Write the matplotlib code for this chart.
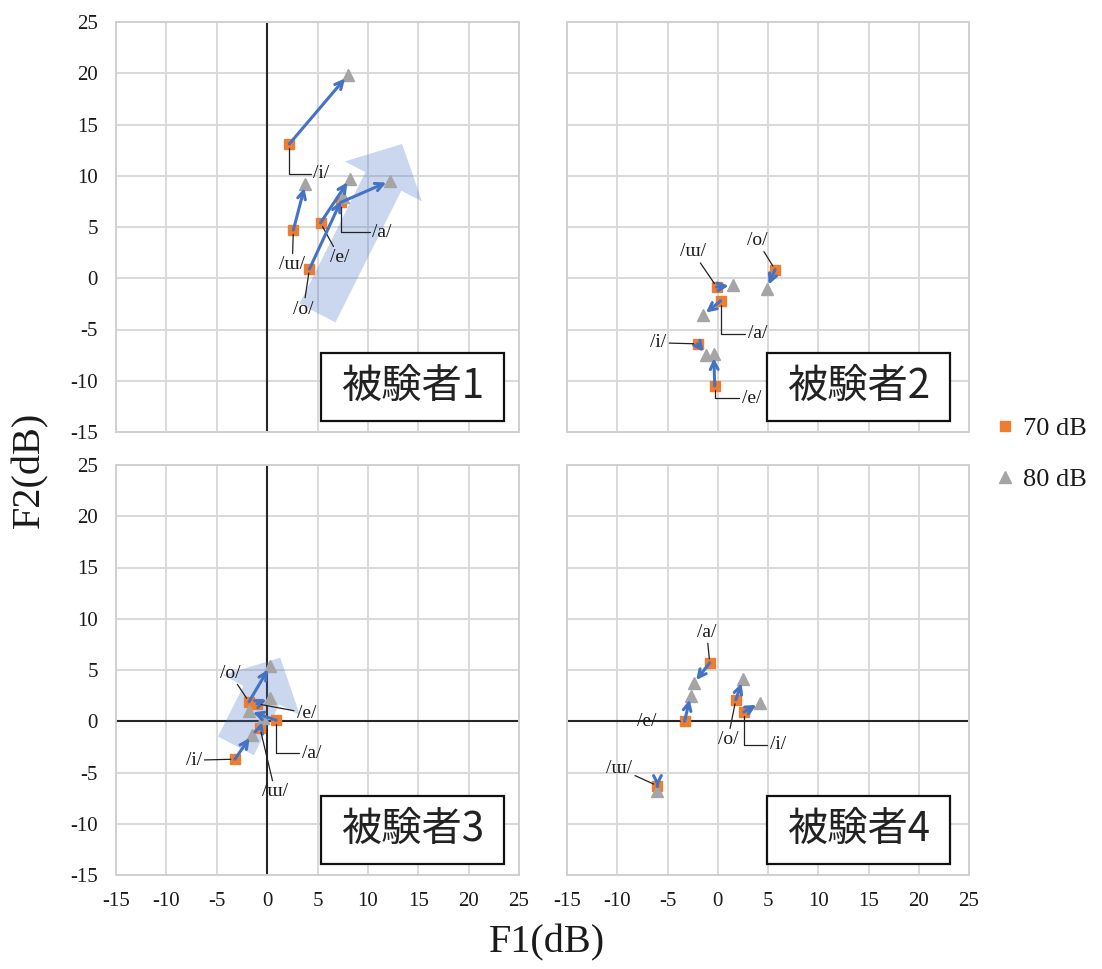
import matplotlib
matplotlib.use('Agg')
import matplotlib.pyplot as plt
from matplotlib.patches import FancyArrow, Rectangle
from matplotlib.lines import Line2D

plt.rcParams['axes.unicode_minus'] = False

# vowel order used in every list below
vowels = ['/i/', '/ɯ/', '/e/', '/a/', '/o/']

# subject 1
s1_70_x = [2.2, 2.6, 5.3, 7.3, 4.2]
s1_70_y = [13.1, 4.7, 5.4, 7.4, 0.9]
s1_80_x = [8.0, 3.8, 8.2, 12.2, 7.5]
s1_80_y = [19.8, 9.2, 9.7, 9.5, 7.9]
s1_lab_x = [5.4, 2.5, 7.2, 11.4, 3.6]
s1_lab_y = [10.2, 1.3, 2.0, 4.5, -3.0]

# subject 2
s2_70_x = [-2.0, -0.1, -0.3, 0.3, 5.7]
s2_70_y = [-6.4, -0.85, -10.5, -2.2, 0.85]
s2_80_x = [-1.2, 1.5, -0.4, -1.5, 4.9]
s2_80_y = [-7.5, -0.7, -7.4, -3.6, -1.0]
s2_lab_x = [-5.9, -2.5, 3.4, 4.0, 3.9]
s2_lab_y = [-6.3, 2.6, -11.7, -5.4, 3.7]

# subject 3
s3_70_x = [-3.2, -0.7, -1.0, 0.9, -1.8]
s3_70_y = [-3.7, -0.7, 1.7, 0.1, 1.9]
s3_80_x = [-1.5, -0.4, 0.3, -1.8, 0.3]
s3_80_y = [-1.3, 0.3, 2.3, 1.0, 5.4]
s3_lab_x = [-7.3, 0.8, 3.9, 4.4, -3.7]
s3_lab_y = [-3.8, -6.9, 0.8, -3.1, 4.7]

# subject 4
s4_70_x = [2.6, -6.0, -3.3, -0.8, 1.8]
s4_70_y = [0.9, -6.3, 0.0, 5.7, 2.1]
s4_80_x = [4.2, -6.0, -2.7, -2.4, 2.5]
s4_80_y = [1.8, -6.8, 2.5, 3.7, 4.1]
s4_lab_x = [6.0, -9.8, -7.1, -1.1, 1.0]
s4_lab_y = [-2.3, -4.6, 0.0, 8.7, -1.8]

# leader line shape per label (True = elbow)
s1_elbow = [True, False, False, True, False]
s2_elbow = [False, False, True, True, False]
s3_elbow = [False, False, False, True, False]
s4_elbow = [True, False, False, False, False]

# big translucent arrows: tail x, tail y, tip x, tip y
s1_big = [5.0, -3.4, 13.4, 13.1]
s3_big = [-3.1, -2.4, 1.3, 6.2]

ticks = [-15, -10, -5, 0, 5, 10, 15, 20, 25]
names = ['被験者1', '被験者2', '被験者3', '被験者4']

serif = ['Liberation Serif', 'DejaVu Serif']
cjk = ['Noto Sans CJK JP', 'DejaVu Sans']
orange = '#ED7D31'
grey = '#A5A5A5'
blue = '#4472C4'

W, H = 1102, 969
fig = plt.figure(figsize=(W / 100, H / 100), dpi=100)

def box(l, t, r, b):
    return [l / W, 1 - b / H, (r - l) / W, (b - t) / H]

ax1 = fig.add_axes(box(116, 22, 519, 432))
ax2 = fig.add_axes(box(567, 22, 969, 432))
ax3 = fig.add_axes(box(116, 465, 519, 875))
ax4 = fig.add_axes(box(567, 465, 969, 875))

panels = [
    (ax1, s1_70_x, s1_70_y, s1_80_x, s1_80_y, s1_lab_x, s1_lab_y, s1_elbow, s1_big, True, False, 5.3),
    (ax2, s2_70_x, s2_70_y, s2_80_x, s2_80_y, s2_lab_x, s2_lab_y, s2_elbow, None, False, False, 4.9),
    (ax3, s3_70_x, s3_70_y, s3_80_x, s3_80_y, s3_lab_x, s3_lab_y, s3_elbow, s3_big, True, True, 5.3),
    (ax4, s4_70_x, s4_70_y, s4_80_x, s4_80_y, s4_lab_x, s4_lab_y, s4_elbow, None, False, True, 4.9),
]

for k, (ax, x70, y70, x80, y80, lx, ly, elbow, big, vline, hline, bx) in enumerate(panels):
    ax.set_xlim(-15, 25)
    ax.set_ylim(-15, 25)
    ax.set_xticks(ticks)
    ax.set_yticks(ticks)
    ax.grid(True, color='#D9D9D9', lw=1.4)
    ax.set_axisbelow(True)
    for sp in ax.spines.values():
        sp.set_color('#D0D0D0')
        sp.set_linewidth(1.4)
    ax.tick_params(length=0, labelsize=15, labelcolor='#1a1a1a')
    ax.tick_params(axis='y', pad=13)
    ax.tick_params(axis='x', pad=12)
    for lab in ax.get_xticklabels() + ax.get_yticklabels():
        lab.set_family(serif)
    if k in (0, 1):
        ax.tick_params(labelbottom=False)
    if k in (1, 3):
        ax.tick_params(labelleft=False)

    if vline:
        ax.axvline(0, color='#262626', lw=1.5, zorder=1.5)
    if hline:
        ax.axhline(0, color='#262626', lw=1.5, zorder=1.5)

    if big is not None:
        ax.add_patch(FancyArrow(big[0], big[1], big[2] - big[0], big[3] - big[1],
                                width=4.0, head_width=8.6, head_length=4.1,
                                length_includes_head=True, color=blue, alpha=0.28,
                                lw=0, zorder=1.8))

    ax.plot(x70, y70, 's', color=orange, ms=7, zorder=3)
    ax.plot(x80, y80, '^', color=grey, ms=8, zorder=3)

    for i in range(len(vowels)):
        ax.annotate('', xy=(x80[i], y80[i]), xytext=(x70[i], y70[i]),
                    arrowprops=dict(arrowstyle='->', color=blue, lw=2.2,
                                    shrinkA=0, shrinkB=3, mutation_scale=14),
                    zorder=4)
        cs = 'angle,angleA=0,angleB=90,rad=0' if elbow[i] else 'arc3'
        ax.annotate(vowels[i], xy=(x70[i], y70[i]), xytext=(lx[i], ly[i]),
                    ha='center', va='center', fontsize=14, family=serif,
                    color='#1a1a1a',
                    arrowprops=dict(arrowstyle='-', color='#222222', lw=0.9,
                                    shrinkA=0, shrinkB=3, connectionstyle=cs),
                    zorder=4)

    ax.add_patch(Rectangle((bx, -13.9), 18.2, 6.6, fc='white', ec='#111111',
                           lw=1.6, zorder=5))
    ax.text(bx + 9.1, -10.6, names[k], ha='center', va='center', fontsize=29,
            family=cjk, color='#222222', zorder=6)

fig.text(30 / W, 1 - 470 / H, 'F2(dB)', rotation=90, ha='center', va='center',
         fontsize=29, family=serif, color='#1a1a1a')
fig.text(547 / W, 1 - 943 / H, 'F1(dB)', ha='center', va='center',
         fontsize=29, family=serif, color='#1a1a1a')

handles = [Line2D([], [], marker='s', color=orange, ls='none', ms=7),
           Line2D([], [], marker='^', color=grey, ls='none', ms=8)]
leg = fig.legend(handles, ['70 dB', '80 dB'], loc='center left',
                 bbox_to_anchor=(994 / W, 1 - 454 / H), frameon=False,
                 borderpad=0, borderaxespad=0,
                 handlelength=0.8, handletextpad=0.3, labelspacing=1.05,
                 prop={'family': serif, 'size': 19})
for t in leg.get_texts():
    t.set_color('#1a1a1a')

fig.savefig('out.png', dpi=100)
